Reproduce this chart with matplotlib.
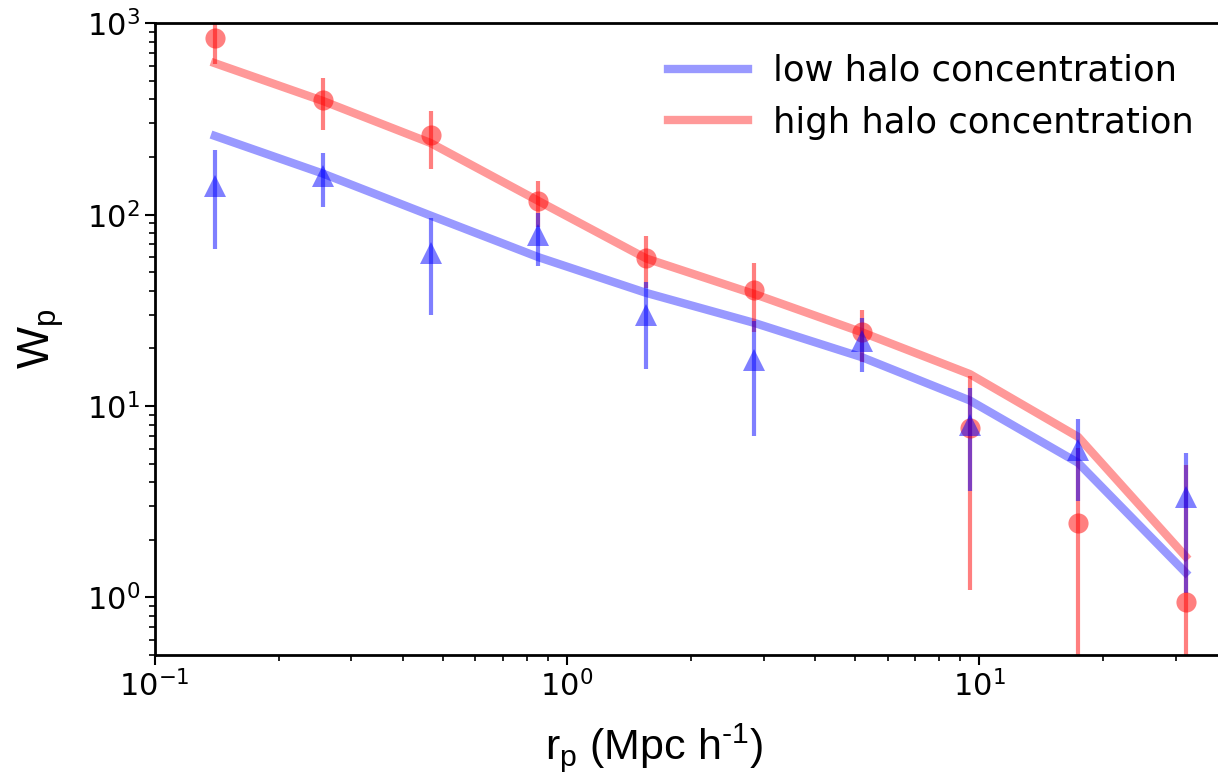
import numpy as np
import matplotlib
matplotlib.use("Agg")
import matplotlib.pyplot as plt

# projected separation bins (Mpc/h)
rp = [0.14, 0.256, 0.467, 0.853, 1.56, 2.85, 5.2, 9.5, 17.4, 31.7]

# measured wp, low concentration (blue triangles)
wp_low = [142, 160, 63, 78, 30, 17.5, 22, 8.0, 5.9, 3.36]
err_low = [76, 50, 33, 24, 14.3, 10.5, 7, 4.4, 2.7, 2.3]

# measured wp, high concentration (red circles)
wp_high = [836, 397, 261, 118, 59.5, 40.3, 24.3, 7.7, 2.45, 0.95]
err_high = [225, 120, 88, 32, 18.3, 15.8, 7.3, 6.6, 3.6, 4.0]

# model curves
model_low = [258, 164, 99, 60, 39, 27.2, 18, 10.7, 5.05, 1.35]
model_high = [619, 393, 237, 118, 59, 38.5, 24.3, 14.7, 6.9, 1.64]

fig = plt.figure(figsize=(12.18, 7.78), dpi=100)
ax = fig.add_axes([0.127, 0.158, 0.873, 0.812])

ax.plot(rp, model_low, color='blue', alpha=0.4, lw=6, label='low halo concentration')
ax.plot(rp, model_high, color='red', alpha=0.4, lw=6, label='high halo concentration')

ax.errorbar(rp, wp_high, yerr=err_high, fmt='o', color='red', alpha=0.5,
            ms=14.5, mew=0, elinewidth=3, capsize=0)
ax.errorbar(rp, wp_low, yerr=err_low, fmt='^', color='blue', alpha=0.5,
            ms=16, mew=0, elinewidth=3, capsize=0)

ax.set_xscale('log')
ax.set_yscale('log')
ax.set_xlim(0.1, 38)
ax.set_ylim(0.5, 1000)

ax.tick_params(which='major', labelsize=22, length=7, width=1.5)
ax.tick_params(which='minor', length=4, width=1.2)
for s in ax.spines.values():
    s.set_linewidth(2)
ax.spines['right'].set_visible(False)  # figure is cut at the right edge

lab_font = dict(family='Liberation Sans', fontsize=31)
ax.set_xlabel('r$_\\mathregular{p}$ (Mpc h$^\\mathregular{\u20101}$)', **lab_font)
ax.set_ylabel(r'W$_\mathregular{p}$', fontsize=32, family='Liberation Sans')
ax.xaxis.set_label_coords(0.47, -0.104)
ax.yaxis.set_label_coords(-0.083, 0.5)

ax.legend(loc='upper right', frameon=False, fontsize=25.5, handlelength=2.26,
          handletextpad=0.72, bbox_to_anchor=(1.0075, 1.002))

fig.savefig('out.png', dpi=100)
